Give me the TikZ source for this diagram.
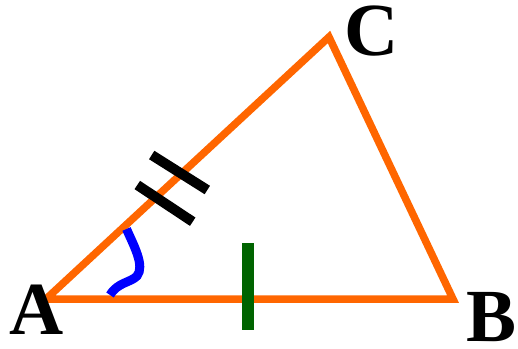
\documentclass[tikz,border=0pt]{standalone}
\usepackage{fontspec}
\setmainfont{Liberation Serif}
\definecolor{triorange}{HTML}{FF6600}
\definecolor{tickgreen}{HTML}{006400}
\definecolor{arcblue}{HTML}{0000FF}
\begin{document}
\begin{tikzpicture}[x=1pt,y=-1pt,
  side/.style={draw=triorange,line width=7.5pt,line join=miter},
  gtick/.style={draw=tickgreen,line width=12pt},
  btick/.style={draw=black,line width=10pt},
  anglemark/.style={draw=arcblue,line width=9pt},
  lab/.style={inner sep=0pt,font=\fontsize{75}{75}\selectfont\bfseries}]
\useasboundingbox (0,0) rectangle (518,348);
\coordinate (A) at (46,299);
\coordinate (B) at (453,299);
\coordinate (C) at (329,37);
\draw[side] (A) -- (B) -- (C) -- cycle;
\coordinate (g1) at (248,243);
\coordinate (g2) at (248,330);
\draw[gtick] (g1) -- (g2);
\coordinate (t1a) at (151.7,155);
\coordinate (t1b) at (207.3,190);
\coordinate (t2a) at (137.3,185);
\coordinate (t2b) at (192.7,221.7);
\draw[btick] (t1a) -- (t1b);
\draw[btick] (t2a) -- (t2b);
\coordinate (m1) at (126.5,229);
\coordinate (m2) at (137,276);
\coordinate (m3) at (110,295);
\draw[anglemark] (m1) .. controls (134,246) and (145,266) .. (m2) .. controls (130,283) and (118,282) .. (m3);
\node[lab] (la) at (37,310) {A};
\node[lab] (lb) at (492,317) {B};
\node[lab] (lc) at (372,31) {C};
\end{tikzpicture}
\end{document}
